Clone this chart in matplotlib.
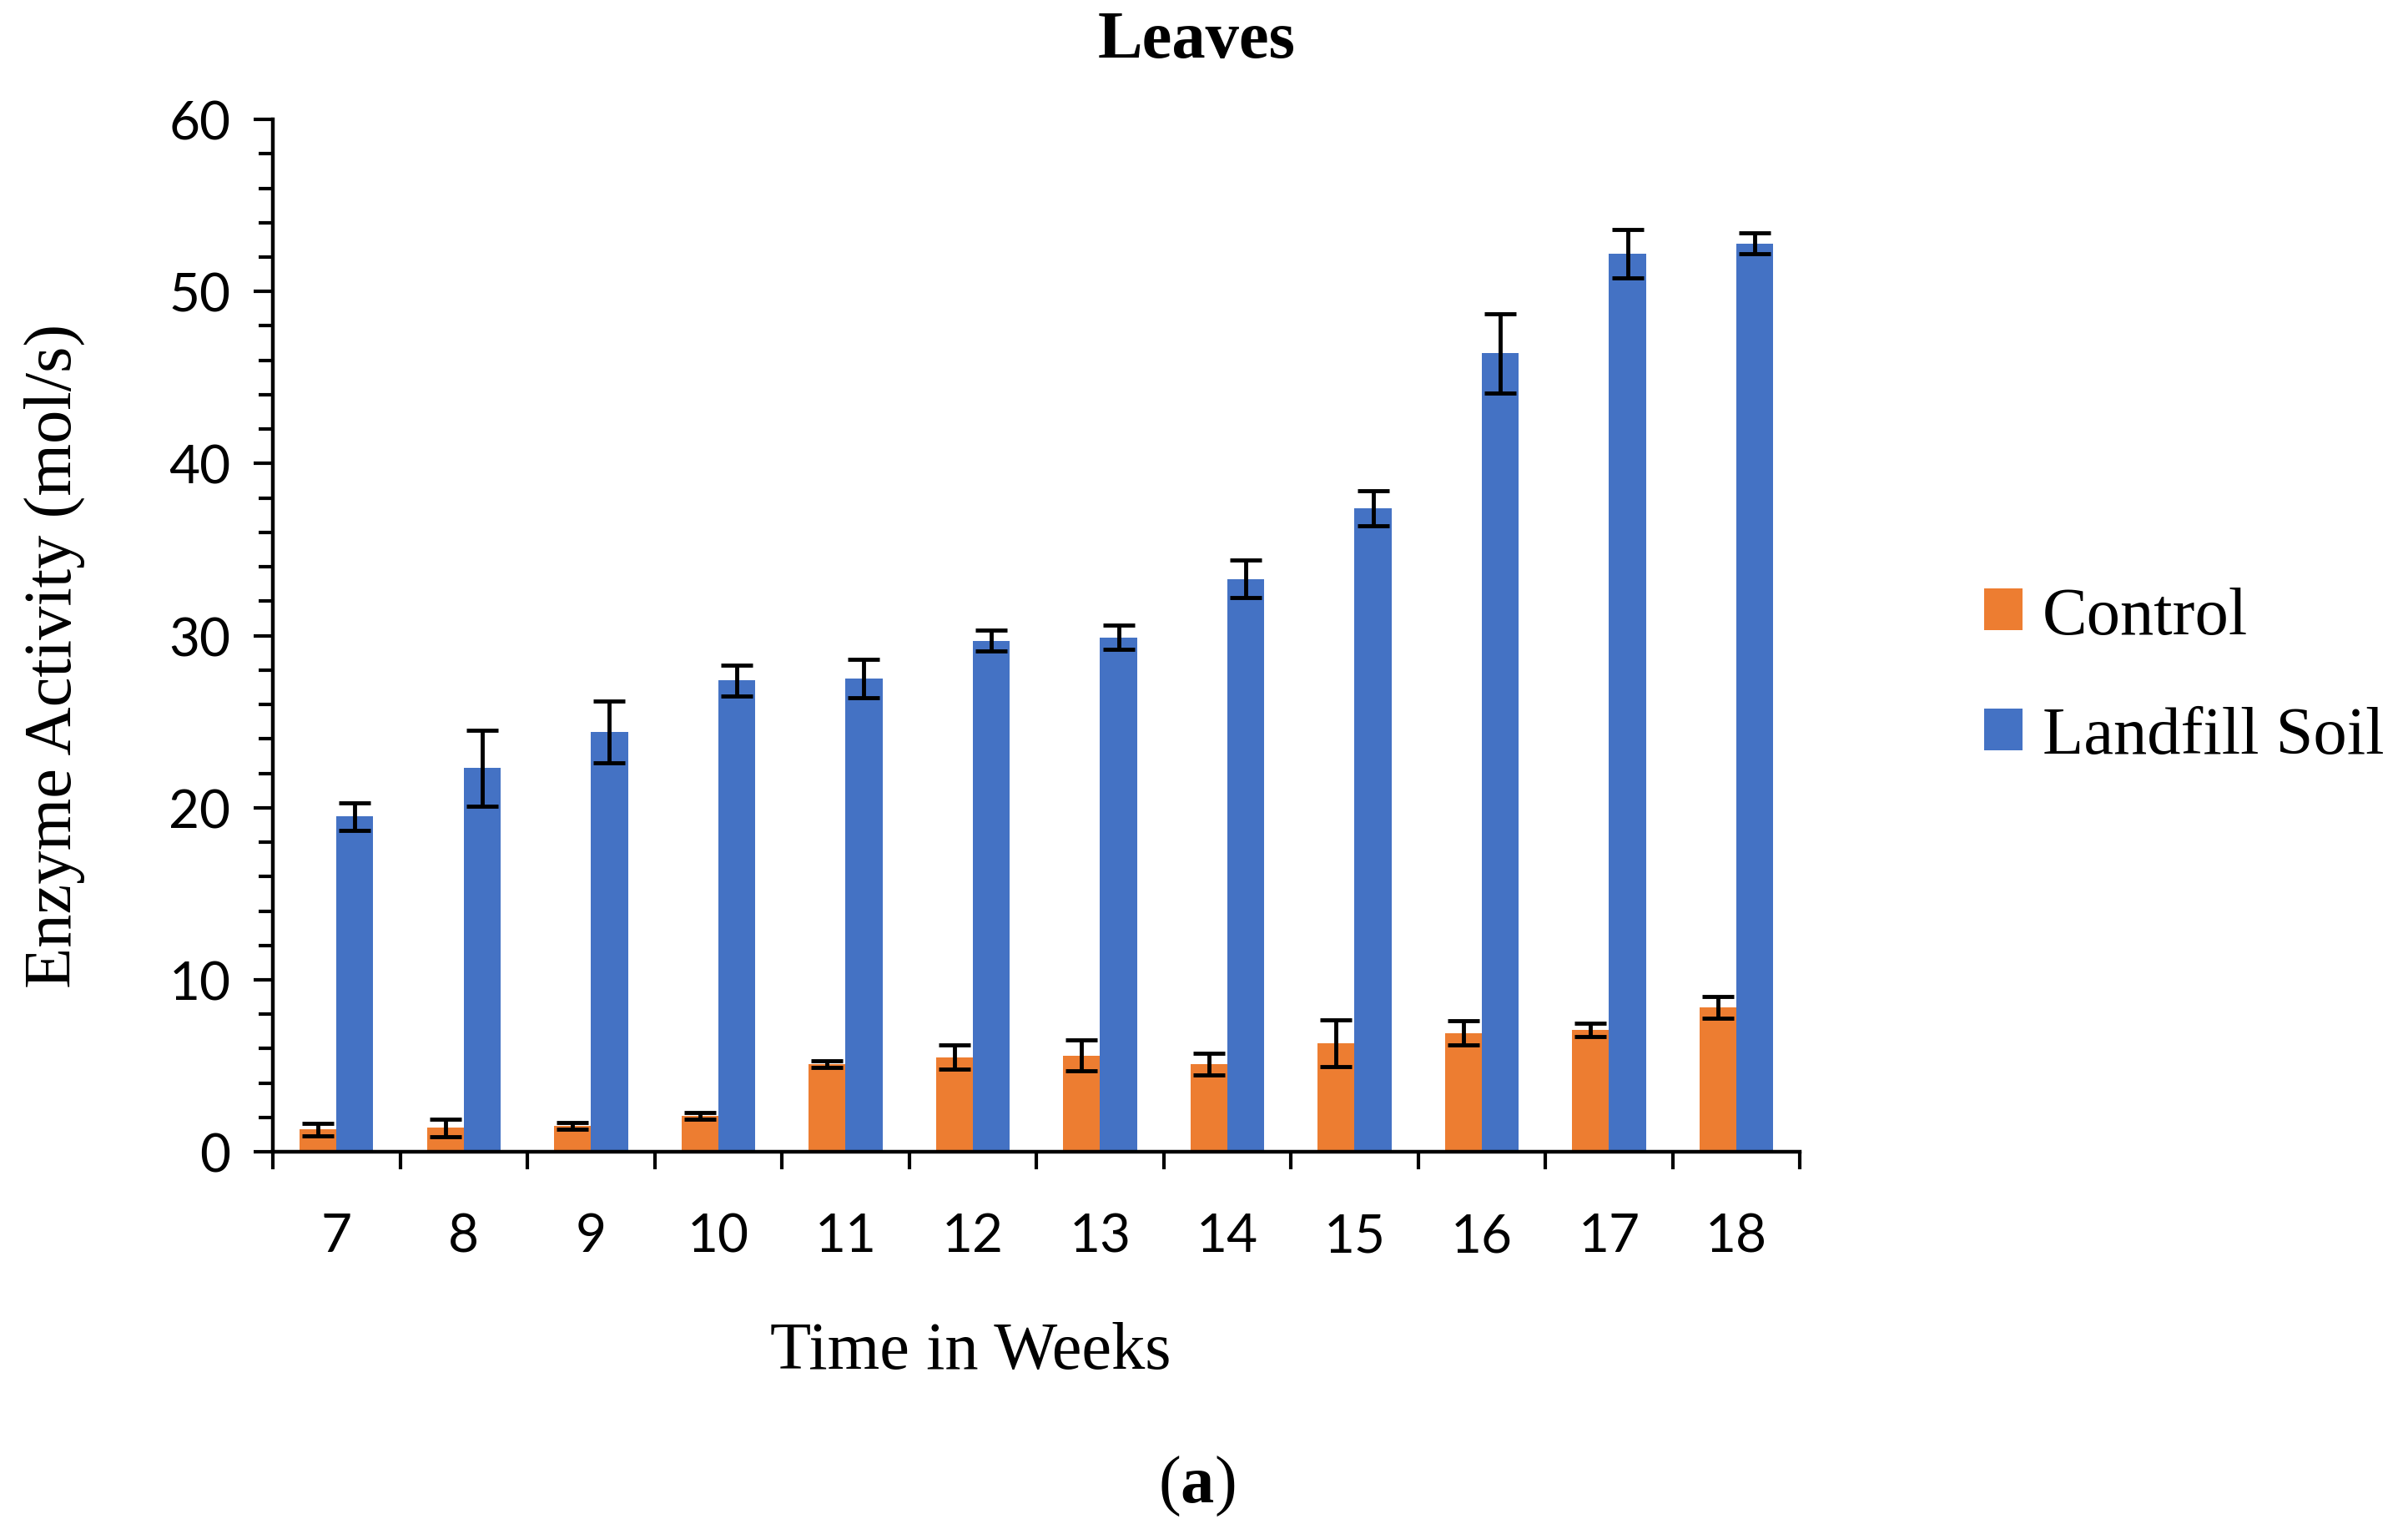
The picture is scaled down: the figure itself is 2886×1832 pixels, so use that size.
import matplotlib
matplotlib.use("Agg")
import matplotlib.pyplot as plt
import numpy as np

# данные
weeks = ["7", "8", "9", "10", "11", "12", "13", "14", "15", "16", "17", "18"]
control = [1.3, 1.4, 1.5, 2.1, 5.1, 5.5, 5.6, 5.1, 6.3, 6.9, 7.1, 8.4]
control_err = [0.35, 0.5, 0.2, 0.2, 0.2, 0.7, 0.9, 0.65, 1.35, 0.7, 0.4, 0.65]
landfill = [19.5, 22.3, 24.4, 27.4, 27.5, 29.7, 29.9, 33.3, 37.4, 46.4, 52.2, 52.8]
landfill_err = [0.8, 2.2, 1.8, 0.9, 1.1, 0.6, 0.7, 1.1, 1.0, 2.3, 1.4, 0.6]

serif = "Liberation Serif"
sans = "Lato"

fig = plt.figure(figsize=(28.86, 18.33), dpi=100)
ax = fig.add_axes([0.1133, 0.2465, 0.7475 - 0.1133, 0.9214 - 0.2465])

x = np.arange(len(weeks))
w = 0.29
err_kw = dict(ecolor="black", elinewidth=3.5, capsize=14, capthick=3.5)

ax.bar(x - w / 2, control, w, color="#ED7D31", label="Control",
       yerr=control_err, error_kw=err_kw)
ax.bar(x + w / 2, landfill, w, color="#4472C4", label="Landfill Soil",
       yerr=landfill_err, error_kw=err_kw)

ax.set_xlim(-0.5, len(weeks) - 0.5)
ax.set_ylim(0, 60)

# оси
for s in ["top", "right"]:
    ax.spines[s].set_visible(False)
for s in ["left", "bottom"]:
    ax.spines[s].set_linewidth(3.2)

ax.set_xticks(np.arange(-0.5, len(weeks), 1))
ax.set_xticklabels([])
ax.set_xticks(x, minor=True)
ax.set_xticklabels(weeks, minor=True, fontfamily=sans, fontsize=46)
ax.tick_params(axis="x", which="major", direction="out", length=15, width=3)
ax.tick_params(axis="x", which="minor", length=0, pad=52)

ax.set_yticks(np.arange(0, 61, 10))
ax.set_yticks(np.arange(0, 61, 2), minor=True)
ax.tick_params(axis="y", which="major", direction="out", length=16.5, width=3,
               pad=20, labelsize=46)
ax.tick_params(axis="y", which="minor", direction="out", length=12, width=3)
for lab in ax.get_yticklabels():
    lab.set_fontfamily(sans)

# подписи
fig.text(0.403, 0.116, "Time in Weeks", fontfamily=serif, fontsize=58,
         ha="center", va="center")
fig.text(0.0225, 0.571, "Enzyme Activity (mol/s)", fontfamily=serif, fontsize=58,
         ha="center", va="center", rotation=90)
fig.text(0.497, 0.973, "Leaves", fontfamily=serif, fontsize=58,
         fontweight="bold", ha="center", va="center")

plt.rcParams["mathtext.fontset"] = "custom"
plt.rcParams["mathtext.rm"] = serif
plt.rcParams["mathtext.bf"] = serif + ":bold"
fig.text(0.497, 0.029, r"$\mathrm{(}\mathbf{a}\mathrm{)}$", fontsize=58,
         ha="center", va="center")

ax.legend(loc="center left", bbox_to_anchor=(0.824, 0.557),
          bbox_transform=fig.transFigure, frameon=False,
          prop={"family": serif, "size": 58},
          handlelength=0.57, handleheight=0.57, handletextpad=0.3,
          labelspacing=0.88, borderpad=0, borderaxespad=0)

fig.savefig("out.png", dpi=100)
